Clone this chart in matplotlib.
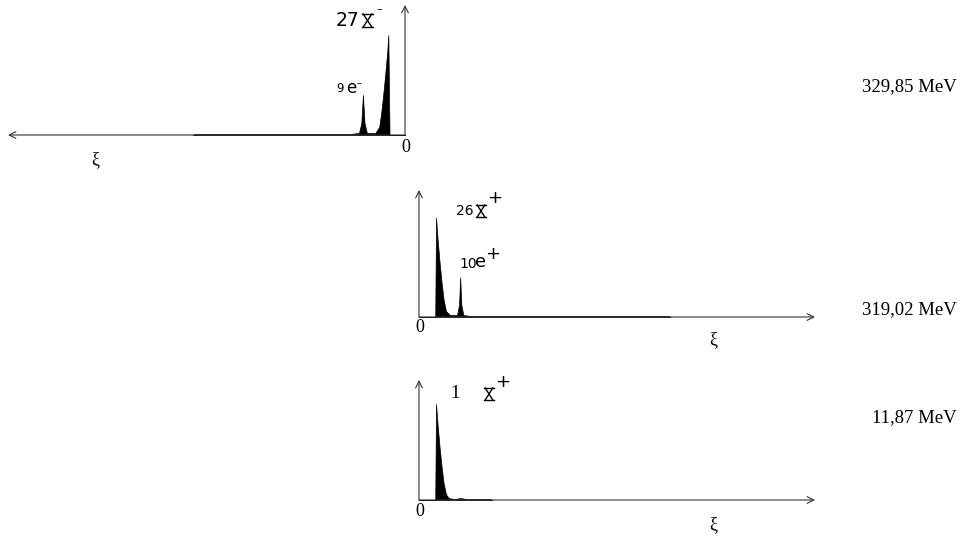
import numpy as np
import matplotlib.pyplot as plt
from matplotlib.lines import Line2D

# espectros (xi en unidades arbitrarias, intensidad relativa)
xi_1 = [0, 3.9, 4.2, 4.5, 5.0, 5.5, 6.0, 6.5, 7.5, 9.6, 10.2, 10.6, 11.0, 11.6, 14, 53, 53.5]
I_1 = [0, 0, 1.0, 0.82, 0.6, 0.4, 0.22, 0.08, 0.02, 0.02, 0.12, 0.40, 0.12, 0.02, 0.01, 0.01, 0]

xi_2 = [0, 4.1, 4.3, 4.7, 5.2, 5.7, 6.2, 6.8, 7.8, 9.6, 10.1, 10.4, 10.7, 11.2, 13, 63, 63.5]
I_2 = [0, 0, 1.0, 0.78, 0.55, 0.35, 0.18, 0.06, 0.02, 0.02, 0.12, 0.40, 0.12, 0.02, 0.01, 0.01, 0]

xi_3 = [0, 4.1, 4.3, 4.7, 5.2, 5.7, 6.2, 6.8, 7.5, 9.0, 10.5, 12, 18, 18.5]
I_3 = [0, 0, 1.0, 0.78, 0.55, 0.35, 0.18, 0.06, 0.02, 0.01, 0.02, 0.01, 0.01, 0]

energias = ["329,85 MeV", "319,02 MeV", "11,87 MeV"]

W, H = 975, 541
fig = plt.figure(figsize=(W / 100, H / 100), dpi=100)


def px_ax(left, top, right, bottom):
    return fig.add_axes([left / W, 1 - bottom / H, (right - left) / W, (bottom - top) / H])


def ftext(x, y, s, **kw):
    fig.text(x / W, 1 - y / H, s, **kw)


def reloj(x0, y0, w, h, lw=1.0):
    # simbolo de reloj de arena (no hay fuente instalada con el glifo)
    d = 1.2
    fig.add_artist(Line2D([x0 / W, (x0 + w) / W], [1 - y0 / H] * 2,
                          transform=fig.transFigure, color='black', lw=lw))
    fig.add_artist(Line2D([x0 / W, (x0 + w) / W], [1 - (y0 + h) / H] * 2,
                          transform=fig.transFigure, color='black', lw=lw))
    xs = [x0 + d, x0 + w - d, x0 + d, x0 + w - d]
    ys = [y0, y0 + h, y0 + h, y0]
    fig.add_artist(Line2D([xs[0] / W, xs[1] / W], [1 - ys[0] / H, 1 - ys[1] / H],
                          transform=fig.transFigure, color='black', lw=lw))
    fig.add_artist(Line2D([xs[2] / W, xs[3] / W], [1 - ys[2] / H, 1 - ys[3] / H],
                          transform=fig.transFigure, color='black', lw=lw))


def flechas(ax, origen):
    arr = dict(arrowstyle='->', lw=0.8, color='#333333', shrinkA=0, shrinkB=0,
               mutation_scale=12)
    ox = 1 if origen == 'right' else 0
    ax.annotate('', xy=(ox, 1), xytext=(ox, 0), xycoords='axes fraction',
                arrowprops=arr, annotation_clip=False)
    ax.annotate('', xy=(1 - ox, 0), xytext=(ox, 0), xycoords='axes fraction',
                arrowprops=arr, annotation_clip=False)
    ax.axis('off')


serif = dict(family='Liberation Serif', color='black')
sans = dict(family='DejaVu Sans', color='black')

# panel superior (xi hacia la izquierda)
ax1 = px_ax(8, 5, 405, 135)
ax1.fill_between(xi_1, 0, I_1, color='black', lw=0.5)
ax1.set_xlim(100, 0)
ax1.set_ylim(0, 1.3)
flechas(ax1, 'right')

# panel medio
ax2 = px_ax(419, 190, 815, 317)
ax2.fill_between(xi_2, 0, I_2, color='black', lw=0.5)
ax2.set_xlim(0, 100)
ax2.set_ylim(0, 1.28)
flechas(ax2, 'left')

# panel inferior
ax3 = px_ax(419, 380, 815, 500)
ax3.fill_between(xi_3, 0, I_3, color='black', lw=0.5)
ax3.set_xlim(0, 100)
ax3.set_ylim(0, 1.25)
flechas(ax3, 'left')

# ejes: 0 y xi
for x, y in [(406, 147), (420, 328), (420, 512)]:
    ftext(x, y, '0', fontsize=13, ha='center', va='center', **serif)
for x, y in [(95, 160), (713, 340), (713, 525)]:
    ftext(x, y, '\u03be', fontsize=13, ha='center', va='center', **serif)

# etiquetas de picos
ftext(336, 20, '27', fontsize=13.5, ha='left', va='center', **sans)
reloj(362, 14, 11, 13)
ftext(376, 9, '\u2013', fontsize=8, ha='left', va='center', **sans)
ftext(336, 89, '9', fontsize=8.5, ha='left', va='center', **sans)
ftext(346, 88, 'e', fontsize=12, ha='left', va='center', **sans)
ftext(357, 83, '\u2013', fontsize=7, ha='left', va='center', **sans)

ftext(456, 211, '26', fontsize=10, ha='left', va='center', **sans)
reloj(476, 205, 10, 12)
ftext(487, 198, '+', fontsize=13, ha='left', va='center', **sans)
ftext(459, 264, '10', fontsize=10, ha='left', va='center', **sans)
ftext(475, 262, 'e', fontsize=13, ha='left', va='center', **sans)
ftext(485, 254, '+', fontsize=13, ha='left', va='center', **sans)

ftext(450, 393, '1', fontsize=13.5, ha='left', va='center', **serif)
reloj(484, 388, 10, 12)
ftext(495, 382, '+', fontsize=13, ha='left', va='center', **sans)

# energias
for (x, y), s in zip([(957, 87), (957, 310), (957, 418)], energias):
    ftext(x, y, s, fontsize=13.5, ha='right', va='center', **serif)

fig.savefig('out.png', dpi=100)
